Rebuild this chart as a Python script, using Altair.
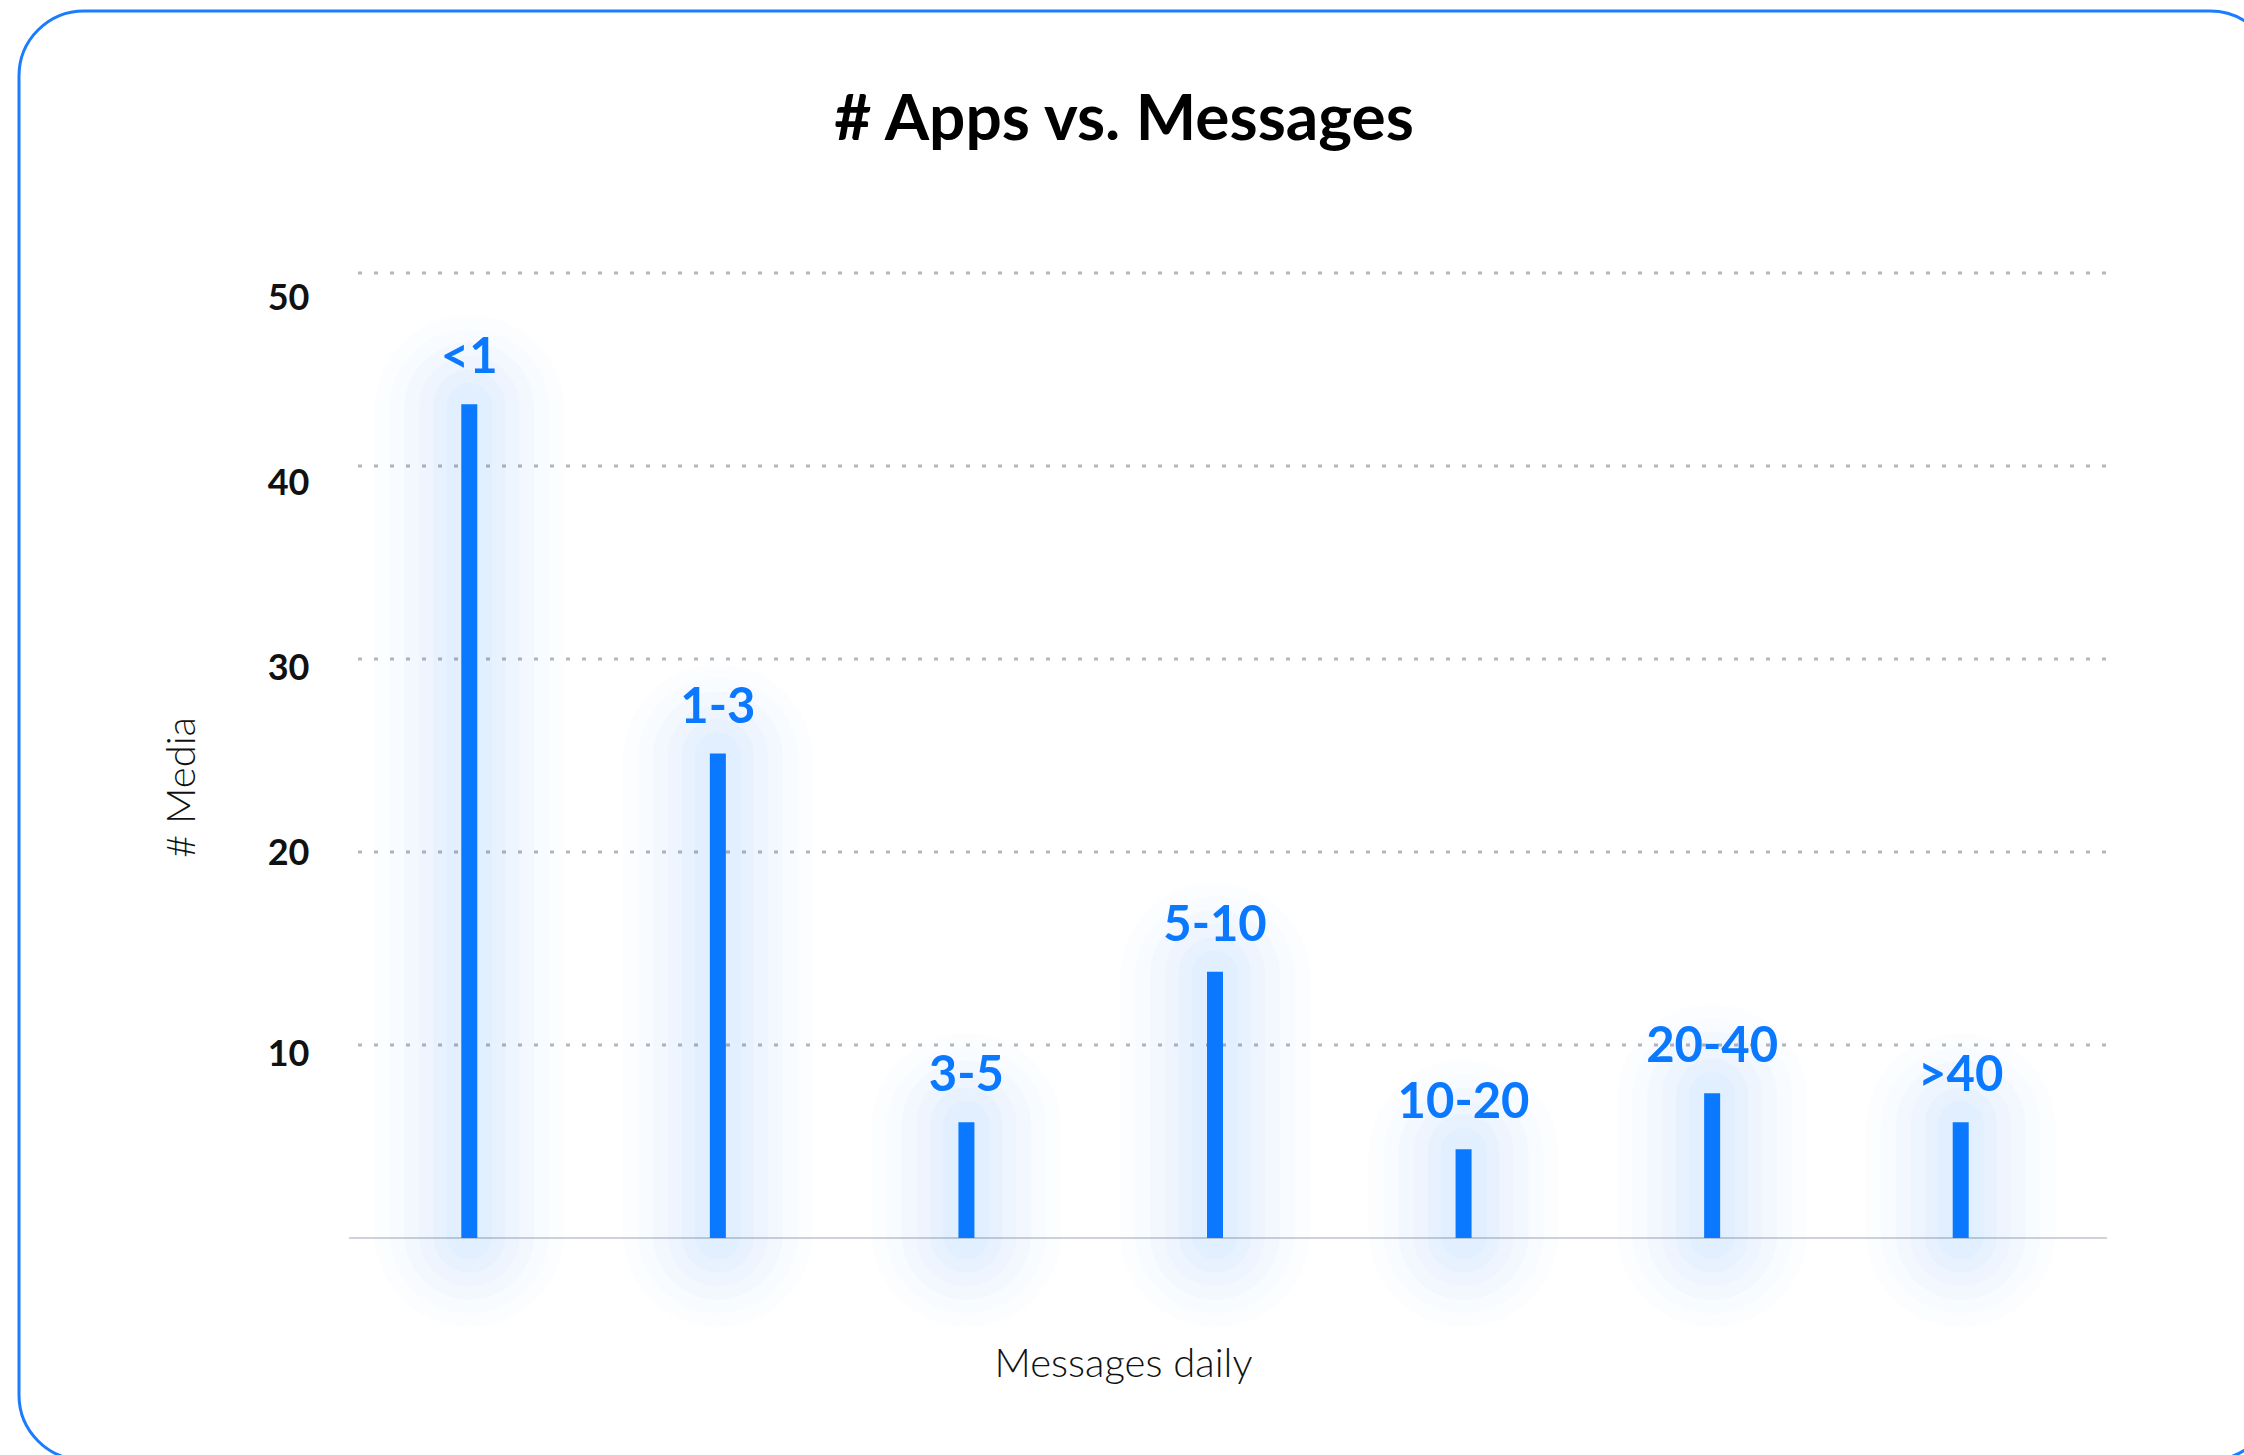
import altair as alt
import pandas as pd

categories = ["<1", "1-3", "3-5", "5-10", "10-20", "20-40", ">40"]
values = [43.2, 25.1, 6.0, 13.8, 4.6, 7.5, 6.0]
y_ticks = [10, 20, 30, 40, 50]
baseline_value = [0]

df = pd.DataFrame({"cat": categories, "v": values})
ticks_df = pd.DataFrame({"t": y_ticks})
base_df = pd.DataFrame({"t": baseline_value})

BLUE = "#0a78ff"
FONT = "Lato"
LEFT = 349
TOP = 273
W = 1758
H = 965

x_axis = alt.Axis(
    labels=False, ticks=False, grid=False, domain=False,
    title="Messages daily", titleX=1123 - LEFT, titleY=126,
    titleAlign="center", titleBaseline="middle",
    titleFont=FONT, titleFontSize=40, titleFontWeight=300, titleColor="#111111",
)
x_enc = alt.X(
    "cat:N",
    sort=categories,
    scale=alt.Scale(paddingInner=0, paddingOuter=0, range=[-4, 1736]),
    axis=x_axis,
)
y_scale = alt.Scale(domain=[0, 50], nice=False)
y_axis = alt.Axis(
    values=y_ticks, domain=False, ticks=False, grid=False,
    labelFont=FONT, labelFontSize=36, labelFontWeight="bold", labelColor="#111111",
    labelPadding=40,
    labelOffset={"condition": [{"test": "datum.value == 50", "value": 25},
                               {"test": "datum.value == 40", "value": 17},
                               {"test": "datum.value == 20", "value": 1}],
                 "value": 9},
    title="# Media", titleX=182 - LEFT, titleY=787 - TOP, titleAngle=-90,
    titleAlign="center", titleBaseline="middle",
    titleFont=FONT, titleFontSize=40, titleFontWeight=300, titleColor="#111111",
)
y_enc = alt.Y("v:Q", scale=y_scale, axis=y_axis)

base = alt.Chart(df)

border = alt.Chart(alt.Data(values=[{"a": 1}])).mark_rect(
    cornerRadius=65, stroke="#1a7cff", strokeWidth=3, fillOpacity=0
).encode(x=alt.value(19 - LEFT), x2=alt.value(2275 - LEFT),
         y=alt.value(11 - TOP), y2=alt.value(1460 - TOP))

grid = alt.Chart(ticks_df).mark_rule(
    color="#b5b7bb", strokeWidth=3, strokeDash=[4, 12]
).encode(
    y=alt.Y("t:Q", scale=y_scale, axis=y_axis),
    x=alt.value(9), x2=alt.value(W),
)

baseline = alt.Chart(base_df).mark_rule(color="#cfd3d9", strokeWidth=2).encode(
    y=alt.Y("t:Q", scale=y_scale, axis=y_axis),
    x=alt.value(0), x2=alt.value(W),
)


def glow(size, ext, op):
    return base.transform_calculate(
        gt=f"datum.v + {ext}", gb=f"{-ext}"
    ).mark_bar(size=size, cornerRadius=size / 2, opacity=op, color=BLUE).encode(
        x=x_enc,
        y=alt.Y("gt:Q", scale=y_scale, axis=y_axis),
        y2=alt.Y2("gb:Q"),
    )


glow_layers = [glow(s, e, o) for s, e, o in [
    (190, 4.6, 0.013), (160, 3.9, 0.016), (130, 3.2, 0.019),
    (100, 2.5, 0.021), (72, 1.8, 0.023), (46, 1.1, 0.025),
]]

bars = base.mark_bar(size=16, color=BLUE).encode(x=x_enc, y=y_enc)

labels = base.mark_text(
    dy=-31, baseline="alphabetic", font=FONT, fontSize=49, fontWeight="bold", color=BLUE
).encode(x=x_enc, y=y_enc, text="cat:N")

chart = alt.layer(border, grid, baseline, *glow_layers, bars, labels).properties(
    width=W,
    height=H,
    autosize=alt.AutoSizeParams(type="none"),
    padding={"left": LEFT, "top": TOP, "right": 2244 - LEFT - W, "bottom": 1455 - TOP - H},
    background="white",
    title=alt.TitleParams(
        "# Apps vs. Messages", font=FONT, fontSize=64, fontWeight="bold", color="#000000",
        anchor="middle", frame="group", dx=1124 - (LEFT + W / 2), offset=0,
        baseline="alphabetic", dy=194,
    ),
).configure_view(stroke=None)

chart.save("out.html", embed_options={"renderer": "svg", "actions": False})
